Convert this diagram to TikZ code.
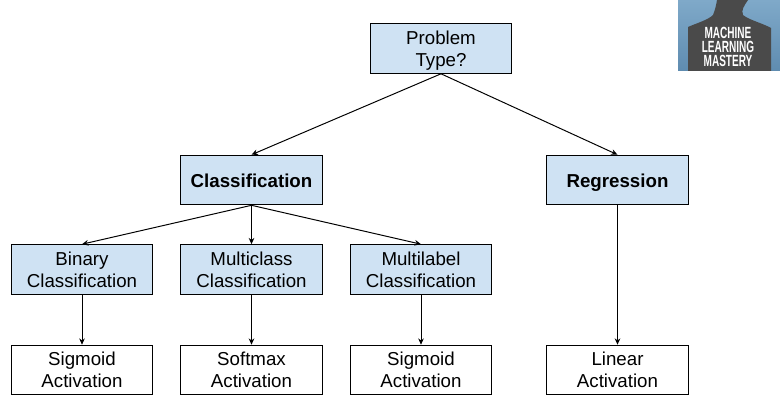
\documentclass[tikz,border=0pt]{standalone}
\usepackage{fontspec}
\setmainfont{Liberation Sans}
\usetikzlibrary{arrows.meta}
\definecolor{boxblue}{HTML}{CFE2F3}
\definecolor{logotop}{HTML}{7FA9C9}
\definecolor{logobottom}{HTML}{5F8CB0}
\definecolor{logodark}{HTML}{4A4A4A}
\begin{document}
\begin{tikzpicture}[x=0.025cm,y=-0.025cm,>={Stealth[length=4.5pt,width=4pt]},line width=0.7pt]
		\tikzstyle{plain}=[draw,shape=rectangle,align=center,inner sep=0pt,text depth=0pt,minimum width=3.53cm,minimum height=1.24cm,font=\fontsize{13.3pt}{15.6pt}\selectfont]
		\tikzstyle{filled}=[plain,fill=boxblue]
		\tikzstyle{single}=[filled,text height=11pt,font=\bfseries\fontsize{13.3pt}{15.6pt}\selectfont]
		\tikzstyle{logotext}=[text=white,align=center,font=\bfseries\fontsize{11.5pt}{10pt}\selectfont,xscale=0.62,inner sep=0pt]

		\useasboundingbox (0,0) rectangle (780,400);

		% logo
		\fill[top color=logotop,bottom color=logobottom] (678,0) rectangle (780,71);
		\fill[logodark] (717,0) .. controls (716,6) and (715,10) .. (713,15) .. controls (708,20) and (697,23) .. (688,27)
			-- (688,71) -- (771,71) -- (771,28) .. controls (762,23) and (749,20) .. (743,15) .. controls (741,10) and (744,6) .. (748,0) -- cycle;
		\node[logotext](logo) at (728,47){MACHINE\\LEARNING\\MASTERY};

		\node[filled,minimum width=3.5cm](problem) at (441,48.5){Problem\\Type?};

		\node[single](classif) at (251.5,180){Classification};
		\node[single](regress) at (617.5,180){Regression};

		\node[filled](binary) at (82,269.5){Binary\\Classification};
		\node[filled](multiclass) at (251.5,269.5){Multiclass\\Classification};
		\node[filled](multilabel) at (421,269.5){Multilabel\\Classification};

		\node[plain](sigmoid1) at (82,370){Sigmoid\\Activation};
		\node[plain](softmax) at (251.5,370){Softmax\\Activation};
		\node[plain](sigmoid2) at (421,370){Sigmoid\\Activation};
		\node[plain](linear) at (617.5,370){Linear\\Activation};

		\draw[->] (problem.south) -- (classif.north);
		\draw[->] (problem.south) -- (regress.north);

		\draw[->] (classif.south) -- (binary.north);
		\draw[->] (classif.south) -- (multiclass.north);
		\draw[->] (classif.south) -- (multilabel.north);

		\draw[->] (binary) -- (sigmoid1);
		\draw[->] (multiclass) -- (softmax);
		\draw[->] (multilabel) -- (sigmoid2);
		\draw[->] (regress) -- (linear);
	\end{tikzpicture}
\end{document}
